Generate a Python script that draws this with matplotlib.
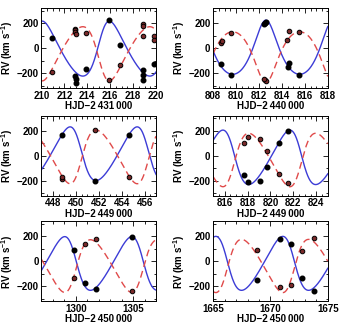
import numpy as np
import matplotlib
matplotlib.use("Agg")
import matplotlib.pyplot as plt
from matplotlib.ticker import MultipleLocator

# ---------------- data ----------------
xlabels = ["HJD\u22122\u2009431\u2009000", "HJD\u22122\u2009440\u2009000",
           "HJD\u22122\u2009449\u2009000", "HJD\u22122\u2009449\u2009000",
           "HJD\u22122\u2009450\u2009000", "HJD\u22122\u2009450\u2009000"]
xlims = [(210, 220), (808, 818), (447, 457), (815, 825), (1297, 1307), (1665, 1675)]
xmajor = [2, 2, 2, 2, 5, 5]
xminor = [0.5, 0.5, 0.5, 0.5, 1, 1]

# orbital solution per panel: time of primary maximum, omega (deg), gamma, K1, K2
period = 5.85
ecc = 0.19
t_max = [215.92, 812.6, 449.5, 821.7, 1299.03, 1671.08]
omega = [300, 358, 72, 75, 75, 75]
gamma = [-25, -34, 3, -24, -28, -27]
K1 = [220, 217, 215, 218, 215, 216]
K2 = [217, 203, 215, 214, 211, 213]

# primary (blue curve) measurements
p_t = [
    [210.93, 212.95, 212.98, 213.0, 213.86, 215.86, 216.81, 218.84, 218.9, 218.9, 219.8],
    [808.67, 809.55, 812.55, 812.45, 812.6, 814.65, 814.5, 815.46],
    [448.8, 451.7, 454.68],
    [817.7, 818.07, 819.06, 819.72, 820.71, 821.52],
    [1299.81, 1300.77, 1301.78, 1304.88],
    [1668.79, 1670.83, 1671.82, 1672.76, 1673.78],
]
p_v = [
    [80, -227, -245, -280, -165, 227, 21, -179, -219, -253, -125],
    [-125, -219, 200, 189, 208, -120, -152, -219],
    [168, -205, 168],
    [-152, -208, -200, -93, 99, 195],
    [91, -176, -224, 197],
    [-149, 176, 139, -136, -235],
]
# secondary (red curve) measurements
s_t = [
    [210.93, 212.9, 212.95, 212.9, 212.98, 213.86, 215.86, 216.81, 218.84, 218.9, 218.84, 219.8, 219.8],
    [808.67, 808.73, 809.55, 812.55, 812.6, 812.45, 814.59, 814.44, 815.46],
    [448.75, 448.8, 451.7, 454.68],
    [817.7, 818.07, 819.06, 819.72, 820.71, 821.52],
    [1299.81, 1300.77, 1301.78, 1304.88],
    [1668.79, 1670.83, 1671.82, 1672.76, 1673.78],
]
s_v = [
    [-192, 155, 141, 128, 115, 120, -259, -133, 189, 173, 96, 93, 67],
    [40, 53, 120, -253, -264, -245, 136, 67, 128],
    [-187, -173, 205, -168],
    [101, 152, 133, 35, -147, -219],
    [-131, 136, 176, -235],
    [88, -208, -189, 85, 184],
]
yerr_panel = [14, 14, 0, 0, 0, 0]


def true_anomaly(t, tp, P, e):
    M = 2 * np.pi * (np.asarray(t) - tp) / P
    E = M.copy()
    for _ in range(50):
        E = E - (E - e * np.sin(E) - M) / (1 - e * np.cos(E))
    return 2 * np.arctan2(np.sqrt(1 + e) * np.sin(E / 2), np.sqrt(1 - e) * np.cos(E / 2))


def periastron_time(tmax, w, P, e):
    nu = -w
    E = 2 * np.arctan2(np.sqrt(1 - e) * np.sin(nu / 2), np.sqrt(1 + e) * np.cos(nu / 2))
    M = E - e * np.sin(E)
    return tmax - M * P / (2 * np.pi)


plt.rcParams['font.family'] = ['Liberation Sans', 'DejaVu Sans']
plt.rcParams['font.weight'] = 'bold'
plt.rcParams['mathtext.fontset'] = 'custom'
plt.rcParams['mathtext.rm'] = 'Liberation Sans:bold'
plt.rcParams['mathtext.default'] = 'rm'

fig = plt.figure(figsize=(3.4, 3.25), dpi=100)
lefts = [0.122, 0.627]
bottoms = [0.729, 0.398, 0.073]
W, H = 0.337, 0.246

blue = '#3c3cd6'
red = '#e04a4a'

for i in range(6):
    r, c = divmod(i, 2)
    ax = fig.add_axes([lefts[c], bottoms[r], W, H])
    w = np.deg2rad(omega[i])
    tp = periastron_time(t_max[i], w, period, ecc)
    tt = np.linspace(xlims[i][0], xlims[i][1], 600)
    nu = true_anomaly(tt, tp, period, ecc)
    v1 = gamma[i] + K1[i] * (np.cos(nu + w) + ecc * np.cos(w))
    v2 = gamma[i] - K2[i] * (np.cos(nu + w) + ecc * np.cos(w))
    ax.plot(tt, v1, color=blue, lw=1.0)
    ax.plot(tt, v2, color=red, lw=1.0, ls=(0, (5, 3)))
    ye = yerr_panel[i]
    ax.errorbar(p_t[i], p_v[i], yerr=ye if ye else None, fmt='o', ms=3.3,
                mfc='black', mec='black', ecolor='black', elinewidth=0.8, capsize=0, zorder=5)
    ax.errorbar(s_t[i], s_v[i], yerr=ye if ye else None, fmt='o', ms=3.3,
                mfc='#7a2a2a', mec='black', mew=0.7, ecolor='black', elinewidth=0.8,
                capsize=0, zorder=5)
    ax.set_xlim(*xlims[i])
    ax.set_ylim(-320, 320)
    ax.xaxis.set_major_locator(MultipleLocator(xmajor[i]))
    ax.xaxis.set_minor_locator(MultipleLocator(xminor[i]))
    ax.yaxis.set_major_locator(MultipleLocator(200))
    ax.yaxis.set_minor_locator(MultipleLocator(100))
    ax.tick_params(which='both', direction='in', top=True, right=True, labelsize=7,
                   width=0.6, pad=2)
    ax.tick_params(which='major', length=3.5)
    ax.tick_params(which='minor', length=1.8)
    for s in ax.spines.values():
        s.set_linewidth(0.7)
    ax.set_xlabel(xlabels[i], fontsize=7, labelpad=0.3, fontweight='bold')
    ax.set_ylabel(r'RV (km s$^{-1}$)', fontsize=7, labelpad=1, fontweight='bold')

fig.savefig('out.png', dpi=100)
